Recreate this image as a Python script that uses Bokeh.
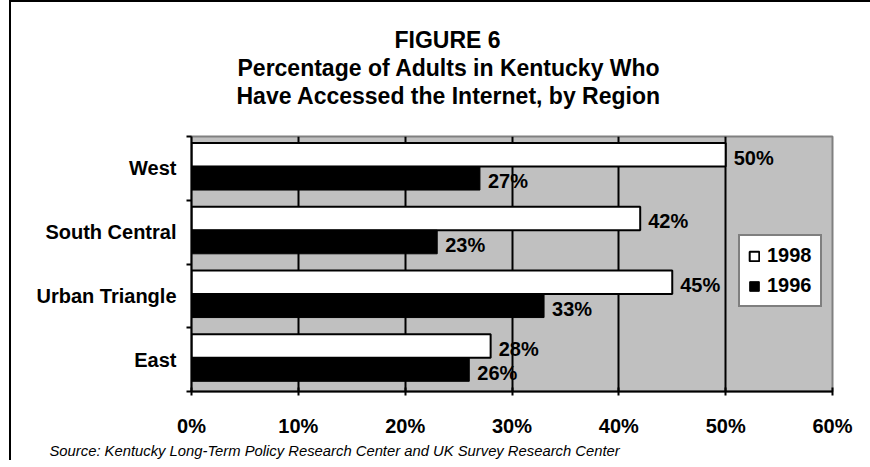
from bokeh.plotting import figure
from bokeh.models import (FixedTicker, PrintfTickFormatter, Legend, LegendItem,
                          ColumnDataSource, LinearAxis, Title, GlobalInlineStyleSheet)
from bokeh.transform import dodge
from bokeh.core.properties import value
from bokeh.embed import file_html
from bokeh.resources import INLINE

# ---- data ----
regions = ["West", "South Central", "Urban Triangle", "East"]
pct_1998 = [50, 42, 45, 28]
pct_1996 = [27, 23, 33, 26]
x_ticks = [0, 10, 20, 30, 40, 50, 60]
title_lines = ["FIGURE 6",
               "Percentage of Adults in Kentucky Who",
               "Have Accessed the Internet, by Region"]
source_note = "Source: Kentucky Long-Term Policy Research Center and UK Survey Research Center"

FONT = "Liberation Sans"
n = len(regions)
centers = [n - i - 0.5 for i in range(n)]
boundaries = list(range(n + 1))

src = ColumnDataSource(dict(
    y=centers,
    v98=pct_1998,
    v96=pct_1996,
    t98=[f"{v}%" for v in pct_1998],
    t96=[f"{v}%" for v in pct_1996],
))

p = figure(width=890, height=460, x_range=(0, 60), y_range=(0, n),
           output_backend="svg", toolbar_location=None,
           min_border_left=180, min_border_top=134,
           min_border_right=69, min_border_bottom=71)
p.styles = {"margin-left": "11px", "margin-top": "2px",
            "box-shadow": "-2px -2px 0px 0px black"}
p.stylesheets = [GlobalInlineStyleSheet(css="html, body { overflow: hidden; }")]

p.background_fill_color = "#C0C0C0"
p.border_fill_color = "white"
p.outline_line_color = "#808080"
p.outline_line_width = 2

# grid
p.xgrid.ticker = FixedTicker(ticks=x_ticks[1:-1])
p.xgrid.grid_line_color = "black"
p.xgrid.grid_line_width = 2
p.ygrid.grid_line_color = None

# x axis
xa = p.xaxis[0]
xa.ticker = FixedTicker(ticks=x_ticks)
xa.formatter = PrintfTickFormatter(format="%d%%")
xa.major_label_text_font = FONT
xa.major_label_text_font_style = "bold"
xa.major_label_text_font_size = "20px"
xa.major_label_text_color = "black"
xa.major_label_standoff = 19
xa.major_tick_in = 4
xa.major_tick_out = 4
xa.major_tick_line_width = 2
xa.major_tick_line_color = "black"
xa.minor_tick_line_color = None
xa.axis_line_width = 2
xa.axis_line_color = "black"

# y axis: ticks at category boundaries
ya = p.yaxis[0]
ya.ticker = FixedTicker(ticks=boundaries)
ya.major_label_overrides = {b: "" for b in boundaries}
ya.major_label_text_font_size = "0px"
ya.major_label_standoff = 0
ya.major_tick_in = 0
ya.major_tick_out = 5
ya.major_tick_line_width = 2
ya.major_tick_line_color = "black"
ya.minor_tick_line_color = None
ya.axis_line_width = 2
ya.axis_line_color = "black"

# y axis: category labels at centers
ya2 = LinearAxis(ticker=FixedTicker(ticks=centers),
                 major_label_overrides={c: r for c, r in zip(centers, regions)})
ya2.major_label_text_font = FONT
ya2.major_label_text_font_style = "bold"
ya2.major_label_text_font_size = "20px"
ya2.major_label_text_color = "black"
ya2.major_label_standoff = 10
ya2.major_tick_in = 0
ya2.major_tick_out = 0
ya2.major_tick_line_color = None
ya2.minor_tick_line_color = None
ya2.axis_line_color = None
p.add_layout(ya2, "left")

# bars
r98 = p.hbar(y=dodge("y", 0.215, range=p.y_range), left=0, right="v98", height=0.37,
             fill_color="white", line_color="black", line_width=2, source=src)
r96 = p.hbar(y=dodge("y", -0.155, range=p.y_range), left=0, right="v96", height=0.37,
             fill_color="black", line_color="black", line_width=1, source=src)

# data labels
lbl_kw = dict(x_offset=8, y_offset=3, text_baseline="middle", text_align="left",
              text_font=value(FONT), text_font_style="bold", text_font_size="20px",
              text_color="black", source=src)
p.text(x="v98", y=dodge("y", 0.215, range=p.y_range), text="t98", **lbl_kw)
p.text(x="v96", y=dodge("y", -0.155, range=p.y_range), text="t96", **lbl_kw)

# legend
legend = Legend(items=[LegendItem(label="1998", renderers=[r98]),
                       LegendItem(label="1996", renderers=[r96])],
                location=(547, 84), orientation="vertical",
                border_line_color="black", border_line_width=2,
                background_fill_color="white", background_fill_alpha=1,
                label_text_font=FONT, label_text_font_style="bold",
                label_text_font_size="20px", label_text_color="black",
                glyph_width=12, glyph_height=12, label_standoff=7,
                padding=8, spacing=7, margin=0)
p.add_layout(legend)

# title block (panels stacked upward from the plot frame)
def spacer(h):
    return Title(text=" ", text_font_size="1px", standoff=h, text_color="white")

title_offsets = [203, 46, 45]
p.add_layout(spacer(24), "above")
for line, off in reversed(list(zip(title_lines, title_offsets))):
    p.add_layout(Title(text=line, align="left", offset=off, vertical_align="middle",
                       text_font=FONT, text_font_style="bold", text_font_size="23px",
                       text_color="black", standoff=0), "above")
p.add_layout(spacer(18), "above")

# source note
p.add_layout(Title(text=source_note, align="left", offset=-142, vertical_align="middle",
                   text_font=FONT, text_font_style="italic", text_font_size="14.8px",
                   text_color="black", standoff=4), "below")

open("out.html", "w").write(file_html(p, INLINE))
